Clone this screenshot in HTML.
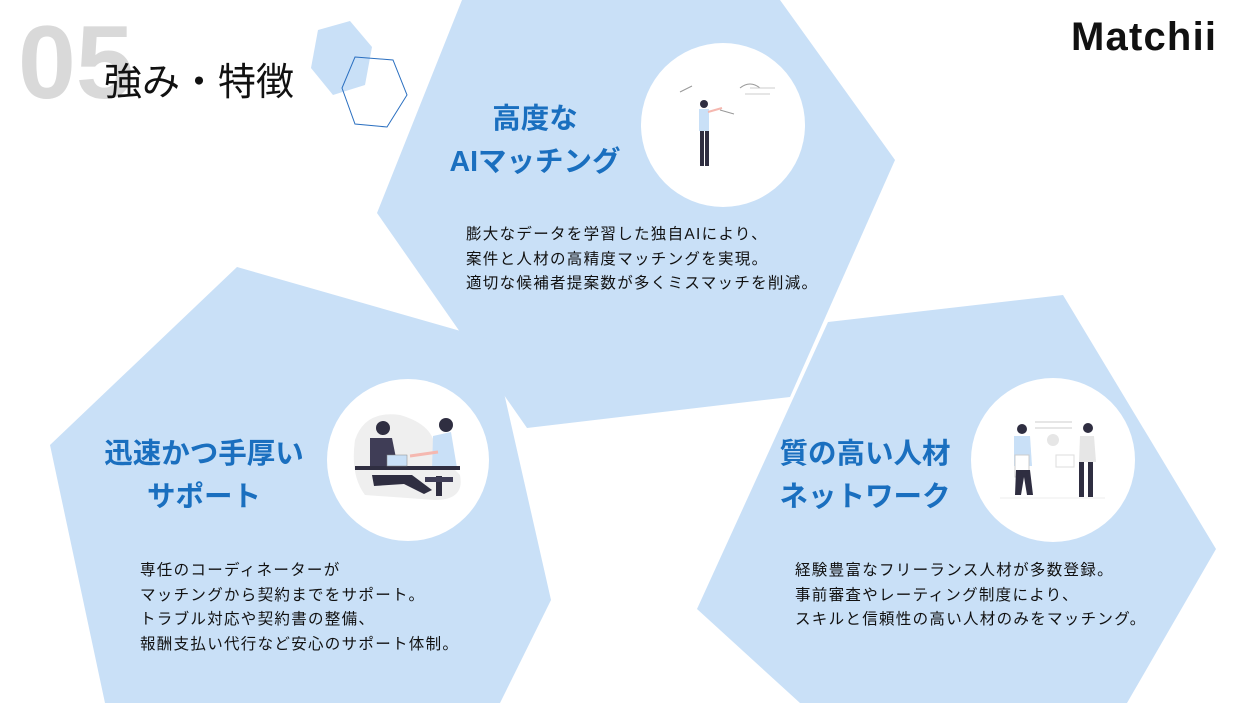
<!DOCTYPE html>
<html><head><meta charset="utf-8"><style>
html,body{margin:0;padding:0;background:#fff;}
body{width:1250px;height:703px;overflow:hidden;position:relative;font-family:"Liberation Sans","Noto Sans CJK JP",sans-serif;}
svg{position:absolute;left:0;top:0;}
.t{position:absolute;white-space:nowrap;}
.h{color:#1a6fbf;font-size:28.5px;font-weight:bold;line-height:43px;}
.b{color:#111;font-size:15.5px;line-height:24.5px;letter-spacing:1.3px;}
</style></head><body>
<svg width="1250" height="703" viewBox="0 0 1250 703">
<polygon points="462,0 377,213 527,428 790,397 895,160 780,0" fill="#c9e0f7"/>
<polygon points="50,445 237,267 492,340 551,600 500,703 105,703" fill="#c9e0f7"/>
<polygon points="697,609 828,322 1063,295 1216,549 1127,703 800,703" fill="#c9e0f7"/>
<polygon points="318,30 350,21 372,47 365,85 333,95 311,68" fill="#c9e0f7"/>
<polygon points="355,57 393,60 407,95 387,127 355,124 342,88" fill="none" stroke="#2a6fc0" stroke-width="1"/>
<circle cx="723" cy="125" r="82" fill="#fff"/>
<circle cx="408" cy="460" r="81" fill="#fff"/>
<circle cx="1053" cy="460" r="82" fill="#fff"/>
<g>
<path d="M680 92 l12 -6 M740 88 q10 -8 20 0 M720 110 l14 4" stroke="#999" stroke-width="1" fill="none"/>
<line x1="750" y1="88" x2="775" y2="88" stroke="#ccc"/><line x1="745" y1="94" x2="770" y2="94" stroke="#ccc"/>
<circle cx="704" cy="104" r="4" fill="#2f2e41"/>
<rect x="699" y="109" width="10" height="22" fill="#c9e0f7"/>
<rect x="700" y="131" width="4" height="35" fill="#2f2e41"/><rect x="705" y="131" width="4" height="35" fill="#2f2e41"/>
<line x1="708" y1="112" x2="722" y2="108" stroke="#f5b8b0" stroke-width="2"/>
</g>
<g>
<path d="M355 440 q10 -30 45 -25 q35 10 35 35 l25 25 q5 25 -25 25 l-70 -5 q-15 -20 -10 -55z" fill="#efefef"/>
<circle cx="383" cy="428" r="7" fill="#2f2e41"/>
<path d="M370 438 l22 0 l6 30 l-28 0z" fill="#3f3d56"/>
<path d="M372 475 l40 0 l20 15 l-8 4 l-20 -10 l-30 2z" fill="#2f2e41"/>
<circle cx="446" cy="425" r="7" fill="#2f2e41"/>
<path d="M433 436 l18 -4 l6 36 l-25 2z" fill="#c9e0f7"/>
<line x1="410" y1="456" x2="438" y2="452" stroke="#f5b8b0" stroke-width="3"/>
<rect x="355" y="466" width="105" height="4" fill="#2f2e41"/>
<rect x="387" y="455" width="20" height="11" fill="#c9e0f7" stroke="#888" stroke-width="0.5"/>
<rect x="436" y="476" width="6" height="20" fill="#2f2e41"/>
<rect x="425" y="477" width="28" height="5" fill="#3f3d56"/>
</g>
<g>
<line x1="1035" y1="422" x2="1072" y2="422" stroke="#e6e6e6" stroke-width="2"/>
<line x1="1035" y1="428" x2="1072" y2="428" stroke="#e6e6e6" stroke-width="2"/>
<circle cx="1053" cy="440" r="6" fill="#e6e6e6"/>
<rect x="1056" y="455" width="18" height="12" fill="#fff" stroke="#ddd"/>
<circle cx="1022" cy="429" r="5" fill="#2f2e41"/>
<path d="M1014 436 l16 0 l2 30 l-18 0z" fill="#c9e0f7"/>
<rect x="1015" y="455" width="14" height="22" fill="#fff" stroke="#ccc"/>
<path d="M1016 470 l14 0 l3 25 l-6 0 l-3 -18 l-3 18 l-6 0z" fill="#2f2e41"/>
<circle cx="1088" cy="428" r="5" fill="#2f2e41"/>
<path d="M1080 436 l14 0 l2 26 l-17 0z" fill="#e6e6e6"/>
<rect x="1079" y="462" width="5" height="35" fill="#2f2e41"/><rect x="1088" y="462" width="5" height="35" fill="#2f2e41"/>
<line x1="1000" y1="498" x2="1105" y2="498" stroke="#eee"/>
</g>
</svg>
<div class="t" style="left:18px;top:8px;font-size:104px;font-weight:bold;color:#d9d9d9;line-height:110px;">05</div>
<div class="t" style="left:104px;top:58px;font-size:38px;color:#111;line-height:50px;">強み・特徴</div>
<div class="t" style="left:1071px;top:12px;font-size:40px;font-weight:bold;color:#111;line-height:50px;letter-spacing:1.2px;">Matchii</div>
<div class="t h" style="left:448px;top:98px;width:174px;text-align:center;">高度な<br>AIマッチング</div>
<div class="t b" style="left:466px;top:223px;">膨大なデータを学習した独自AIにより、<br>案件と人材の高精度マッチングを実現。<br>適切な候補者提案数が多くミスマッチを削減。</div>
<div class="t h" style="left:101px;top:433px;width:206px;text-align:center;">迅速かつ手厚い<br>サポート</div>
<div class="t b" style="left:140px;top:559px;">専任のコーディネーターが<br>マッチングから契約までをサポート。<br>トラブル対応や契約書の整備、<br>報酬支払い代行など安心のサポート体制。</div>
<div class="t h" style="left:776px;top:433px;width:178px;text-align:center;">質の高い人材<br>ネットワーク</div>
<div class="t b" style="left:795px;top:559px;">経験豊富なフリーランス人材が多数登録。<br>事前審査やレーティング制度により、<br>スキルと信頼性の高い人材のみをマッチング。</div>
</body></html>
